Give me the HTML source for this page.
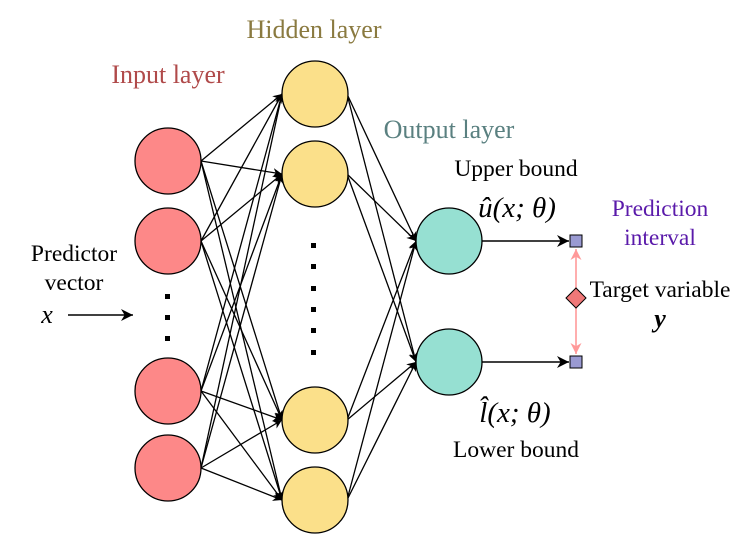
<!DOCTYPE html>
<html><head><style>body{margin:0;background:#fff}svg{display:block}</style></head><body>
<svg width="747" height="545" viewBox="0 0 747 545" xmlns="http://www.w3.org/2000/svg" font-family="Liberation Serif, serif">
<defs>
<marker id="a" viewBox="0 0 10 10" refX="10" refY="5" markerWidth="9" markerHeight="9" markerUnits="userSpaceOnUse" orient="auto"><path d="M0,0 L10,5 L0,10 L3,5 z" fill="#000"/></marker>
<marker id="b" viewBox="0 0 10 10" refX="10" refY="5" markerWidth="12" markerHeight="12" markerUnits="userSpaceOnUse" orient="auto"><path d="M0,0 L10,5 L0,10 L3,5 z" fill="#000"/></marker>
<marker id="p" viewBox="0 0 10 10" refX="10" refY="5" markerWidth="11" markerHeight="11" markerUnits="userSpaceOnUse" orient="auto"><path d="M0,0 L10,5 L0,10 L3,5 z" fill="#f99"/></marker>
</defs>
<g stroke="#000" stroke-width="1.3" fill="none" id="ih"></g>
<script>
const NS="http://www.w3.org/2000/svg";
const inp=[161,241,391,468], hid=[94,174,420,500], out=[241,362];
const g=document.getElementById('ih');
function L(x1,y1,x2,y2,m,w){const l=document.createElementNS(NS,'line');l.setAttribute('x1',x1);l.setAttribute('y1',y1);l.setAttribute('x2',x2);l.setAttribute('y2',y2);l.setAttribute('marker-end','url(#'+m+')');if(w)l.setAttribute('stroke-width',w);g.appendChild(l);}
inp.forEach(a=>hid.forEach(b=>L(201,a,282,b,'a')));
hid.forEach(a=>out.forEach(b=>L(347,a,416,b,'a')));
out.forEach(a=>L(482,a,569,a,'b',1.6));
L(68,315,133,315,'b',1.6);
</script>
<g stroke="#000" stroke-width="1.3">
<circle cx="168" cy="161" r="33" fill="#fd8888"/>
<circle cx="168" cy="241" r="33" fill="#fd8888"/>
<circle cx="168" cy="391" r="33" fill="#fd8888"/>
<circle cx="168" cy="468" r="33" fill="#fd8888"/>
<circle cx="315" cy="94" r="33" fill="#fbe08a"/>
<circle cx="315" cy="174" r="33" fill="#fbe08a"/>
<circle cx="315" cy="420" r="33" fill="#fbe08a"/>
<circle cx="315" cy="500" r="33" fill="#fbe08a"/>
<circle cx="449" cy="241" r="33" fill="#96e0d2"/>
<circle cx="449" cy="362" r="33" fill="#96e0d2"/>
</g>
<g fill="#000">
<rect x="165" y="294" width="5" height="5"/><rect x="165" y="315" width="5" height="5"/><rect x="165" y="336" width="5" height="5"/>
<rect x="311" y="243" width="5" height="5"/><rect x="311" y="264" width="5" height="5"/><rect x="311" y="286" width="5" height="5"/><rect x="311" y="307" width="5" height="5"/><rect x="311" y="328" width="5" height="5"/><rect x="311" y="350" width="5" height="5"/>
</g>
<line x1="576" y1="288" x2="576" y2="249" stroke="#f99" stroke-width="1.6" marker-end="url(#p)"/>
<line x1="576" y1="308" x2="576" y2="354" stroke="#f99" stroke-width="1.6" marker-end="url(#p)"/>
<rect x="570" y="235" width="12" height="12" fill="#9a9ad2" stroke="#000"/>
<rect x="570" y="356" width="12" height="12" fill="#9a9ad2" stroke="#000"/>
<path d="M576,288 L586,298 L576,308 L566,298 z" fill="#f07878" stroke="#000"/>
<g font-size="26">
<text x="168" y="83" text-anchor="middle" fill="#b04a4a">Input layer</text>
<text x="314" y="38" text-anchor="middle" fill="#8a7a40">Hidden layer</text>
<text x="449" y="138" text-anchor="middle" fill="#5a8080">Output layer</text>
</g>
<g font-size="23.5">
<text x="516" y="176" text-anchor="middle" fill="#000">Upper bound</text>
<text x="516" y="457" text-anchor="middle" fill="#000">Lower bound</text>
<text x="660" y="216" text-anchor="middle" fill="#5a1aaa">Prediction</text>
<text x="660" y="245" text-anchor="middle" fill="#5a1aaa">interval</text>
<text x="660" y="297" text-anchor="middle" fill="#000">Target variable</text>
<text x="74" y="261" text-anchor="middle" fill="#000">Predictor</text>
<text x="74" y="290" text-anchor="middle" fill="#000">vector</text>
</g>
<g font-size="29" font-style="italic" fill="#000">
<text x="47" y="323" text-anchor="middle" font-size="26">x</text>
<text x="660" y="327" text-anchor="middle" font-weight="bold" font-size="26">y</text>
<text x="517" y="217" text-anchor="middle">û(x; θ)</text>
<text x="515" y="422" text-anchor="middle">l̂(x; θ)</text>
</g>
</svg>
</body></html>
